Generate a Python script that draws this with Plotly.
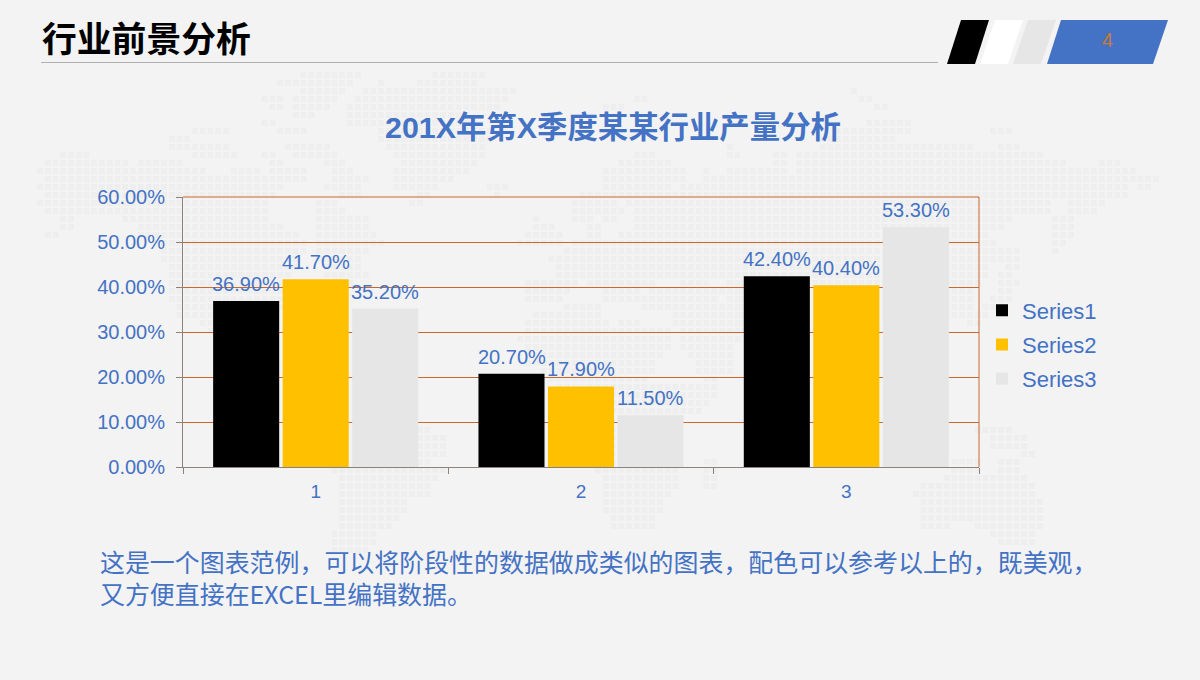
import plotly.graph_objects as go

categories = ["1", "2", "3"]
series_names = ["Series1", "Series2", "Series3"]
series1 = [0.369, 0.207, 0.424]
series2 = [0.417, 0.179, 0.404]
series3 = [0.352, 0.115, 0.533]
series_colors = ["#000000", "#ffc000", "#e7e6e6"]
y_ticks = [0, 0.1, 0.2, 0.3, 0.4, 0.5, 0.6]

heading = "行业前景分析"
chart_title = "201X年第X季度某某行业产量分析"
body_lines = ["这是一个图表范例，可以将阶段性的数据做成类似的图表，配色可以参考以上的，既美观，",
              "又方便直接在EXCEL里编辑数据。"]
page_number = "4"

# decorative dotted world map: row -> spans, in page pixels
map_rows = [
 (75,[(302,363),(435,482)]),(83,[(277,355),(380,387),(418,480)]),(91,[(302,348),(365,520),(853,860)]),
 (99,[(262,285),(293,338),(357,505),(633,650),(862,875)]),(107,[(270,283),(293,332),(348,498),(602,623),(877,892)]),
 (115,[(293,315),(348,470)]),(123,[(262,277),(348,470),(870,915)]),(131,[(198,228),(277,307),(380,490),(840,915),(997,1010)]),
 (139,[(175,188),(380,490),(823,900)]),(147,[(175,188),(198,228),(285,330),(388,488),(728,735),(822,970),(1003,1018)]),
 (155,[(65,87),(198,237),(262,277),(293,338),(395,488),(640,653),(728,742),(775,788),(798,1040)]),
 (163,[(48,127),(143,180),(270,285),(325,347),(403,480),(625,670),(775,788),(798,1065),(1098,1120)]),
 (171,[(40,205),(230,260),(270,307),(333,355),(397,472),(608,687),(703,710),(728,788),(798,1135)]),
 (179,[(48,307),(332,370),(397,457),(602,687),(703,1158)]),
 (187,[(40,283),(323,362),(395,442),(490,512),(602,633),(640,670),(687,1127),(1137,1150)]),
 (195,[(48,275),(340,362),(420,433),(500,503),(585,623),(632,1128)]),
 (203,[(40,268),(317,338),(412,427),(577,615),(632,1050),(1067,1080),(1083,1103)]),
 (211,[(48,268),(317,347),(577,623),(640,1050),(1067,1080),(1090,1097)]),
 (219,[(65,78),(127,268),(317,370),(537,543),(577,592),(602,615),(640,1010),(1058,1073)]),
 (227,[(65,72),(143,283),(317,370),(537,552),(593,600),(633,1002),(1052,1073)]),
 (235,[(48,63),(143,300),(317,378),(530,537),(547,560),(593,600),(625,993),(1052,1073)]),
 (243,[(160,307),(317,385),(522,537),(547,560),(577,1000),(1052,1065)]),
 (251,[(167,307),(317,370),(568,1002),(1010,1018),(1052,1057)]),
 (259,[(167,300),(317,363),(553,1002),(1010,1018)]),
 (267,[(175,300),(325,363),(560,993),(1010,1018)]),
 (275,[(175,292),(325,370),(560,663),(667,993),(1002,1010)]),
 (283,[(175,292),(325,355),(530,575),(593,608),(617,655),(687,710),(728,985),(1003,1017)]),
 (291,[(175,292),(325,347),(530,567),(602,615),(625,640),(650,970),(1003,1010)]),
 (299,[(175,283),(530,560),(608,615),(625,640),(648,717),(728,970),(995,1010)]),
 (307,[(183,283),(568,600),(648,970),(988,1003)]),
 (315,[(183,277),(537,600),(672,975),(972,993)]),
 (323,[(200,270),(530,607),(625,640),(672,880),(972,978)]),
 (331,[(207,263),(530,670),(680,880)]),
 (339,[(520,670),(680,740)]),(347,[(527,670),(680,733)]),(355,[(530,663),(690,737)]),
 (363,[(530,657),(697,737)]),(371,[(543,657),(697,733)]),(379,[(550,650),(707,717)]),
 (387,[(560,718)]),(395,[(560,718)]),(403,[(560,710)]),(411,[(560,700)]),
 (422,[(600,683)]),(430,[(418,433),(600,683),(977,1010)]),(438,[(418,448),(600,683),(995,1025)]),
 (446,[(418,448),(600,683),(995,1025)]),(454,[(418,448),(600,683),(1027,1033)]),
 (462,[(418,433),(600,683),(703,717),(957,985),(1003,1017)]),
 (470,[(333,443),(600,683),(703,717),(957,985),(1003,1017)]),(478,[(340,438),(602,677),(703,717),(950,1025)]),
 (486,[(340,433),(608,677),(703,717),(925,1033)]),(494,[(340,433),(608,670),(917,1033)]),
 (502,[(340,410),(608,662),(925,1040)]),(510,[(340,410),(608,662),(925,1040)]),
 (518,[(340,402),(617,653),(925,1040)]),(526,[(340,393),(617,653),(925,953),(980,1040)]),
 (534,[(333,378),(995,1033)]),(542,[(333,378),(1003,1033)]),(550,[(333,370)]),
]
dot_x, dot_y = [], []
for row_y, spans in map_rows:
    for a, b in spans:
        col = round((a - 40) / 7.75)
        while 40 + col * 7.75 <= b:
            dot_x.append(40 + col * 7.75)
            dot_y.append(row_y)
            col += 1

BLUE = "#4472c4"
ORANGE = "#c8682c"
AXIS = "#8f8078"
LATIN = "Liberation Sans, Noto Sans CJK SC"
CJK = "Noto Sans CJK SC, Liberation Sans"

fig = go.Figure()
fig.add_trace(go.Scatter(x=dot_x, y=dot_y, mode="markers", showlegend=False, hoverinfo="skip",
                         marker=dict(symbol="square", size=6, color="#eeeeee", line=dict(width=0)),
                         xaxis="x", yaxis="y"))
all_series = [series1, series2, series3]
for name, vals, col in zip(series_names, all_series, series_colors):
    fig.add_trace(go.Bar(x=categories, y=vals, name=name, legendgroup=name,
                         marker=dict(color=col, line=dict(width=0)),
                         xaxis="x2", yaxis="y2"))


def para(x_top0, x_top1, x_bot0, x_bot1, fill):
    return dict(type="path", xref="x", yref="y", line=dict(width=0), fillcolor=fill, layer="above",
                path=f"M{x_top0},20 L{x_top1},20 L{x_bot1},64 L{x_bot0},64 Z")


shapes = [
    dict(type="line", xref="x", yref="y", x0=41, x1=938, y0=62.5, y1=62.5, line=dict(color="#b0b0b0", width=1)),
    para(961, 989, 947, 975, "#000000"),
    para(995, 1023, 980, 1008, "#ffffff"),
    para(1028, 1056, 1013, 1041, "#e7e6e6"),
    para(1061, 1168, 1047, 1153, BLUE),
    dict(type="line", xref="x2 domain", yref="y2 domain", x0=1, x1=1, y0=0, y1=1, line=dict(color=ORANGE, width=1)),
    dict(type="line", xref="x2 domain", yref="y2 domain", x0=0, x1=1, y0=1, y1=1, line=dict(color=ORANGE, width=1)),
]

annotations = [
    dict(x=40, y=36.5, text=heading, xref="x", yref="y", xanchor="left", yanchor="middle", showarrow=False,
         font=dict(family=CJK, size=34.8, color="#000000", weight="bold")),
    dict(x=1107, y=40, text=page_number, xref="x", yref="y", xanchor="center", yanchor="middle", showarrow=False,
         font=dict(family=LATIN, size=20, color="#c87a3c")),
    dict(x=613, y=127, text=chart_title, xref="x", yref="y", xanchor="center", yanchor="middle", showarrow=False,
         font=dict(family=LATIN, size=30.4, color=BLUE, weight="bold")),
    dict(x=98, y=577, text="<br>".join(body_lines), xref="x", yref="y", xanchor="left", yanchor="middle",
         align="left", showarrow=False, font=dict(family=CJK, size=24.95, color=BLUE)),
]
# data labels, anchored on each bar's value and category position
for s, vals in enumerate(all_series):
    for c, v in enumerate(vals):
        annotations.append(dict(x=c, y=v, xref="x2", yref="y2", text=f"{v:.2%}", showarrow=False,
                                xanchor="center", yanchor="bottom", xshift=(s - 1) * 69.5, yshift=4,
                                font=dict(family=LATIN, size=20, color=BLUE)))

fig.update_layout(
    width=1200, height=680, margin=dict(l=0, r=0, t=0, b=0, autoexpand=False),
    paper_bgcolor="#f3f3f3", plot_bgcolor="rgba(0,0,0,0)",
    barmode="group", bargap=0.214, bargroupgap=0.05,
    xaxis=dict(domain=[0, 1], range=[0, 1200], visible=False, fixedrange=True),
    yaxis=dict(domain=[0, 1], range=[680, 0], visible=False, fixedrange=True),
    xaxis2=dict(domain=[183 / 1200, 979 / 1200], type="category", anchor="y2", categoryorder="array",
                categoryarray=categories, range=[-0.5, 2.5], tickson="boundaries", ticks="outside", ticklen=6,
                tickcolor=AXIS, showline=True, linecolor=AXIS, linewidth=1, showgrid=False, ticklabelstandoff=7,
                tickfont=dict(family=LATIN, size=19, color=BLUE)),
    yaxis2=dict(domain=[1 - 467 / 680, 1 - 197 / 680], range=[0, 0.6], anchor="x2", tickvals=y_ticks,
                tickformat=".2%", ticks="outside", ticklen=6, tickcolor=AXIS, showline=True, linecolor=AXIS,
                linewidth=1, showgrid=True, gridcolor=ORANGE, gridwidth=1, zeroline=False,
                ticklabelstandoff=7, tickfont=dict(family=LATIN, size=20, color=BLUE)),
    legend=dict(x=982 / 1200, y=1 - 289.5 / 680, xanchor="left", yanchor="top", bgcolor="rgba(0,0,0,0)",
                traceorder="grouped", tracegroupgap=2.5,
                font=dict(family=LATIN, size=22, color=BLUE)),
    shapes=shapes, annotations=annotations,
)

fig.write_html("out.html", config={"displayModeBar": False},
               post_script="document.body.style.margin='0';document.body.style.overflow='hidden';")
